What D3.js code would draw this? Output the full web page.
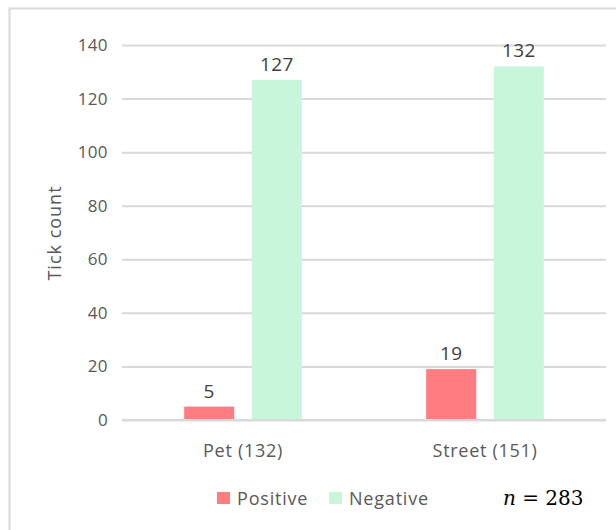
<!DOCTYPE html>
<html>
<head>
<meta charset="utf-8">
<script src="https://cdn.jsdelivr.net/npm/d3@7"></script>
<style>
  html, body { margin: 0; padding: 0; background: #fff; }
  svg { display: block; }
</style>
</head>
<body>
<svg id="chart" width="616" height="530"></svg>
<script>
const categories = ["Pet (132)", "Street (151)"];
const seriesNames = ["Positive", "Negative"];
const positiveValues = [5, 19];
const negativeValues = [127, 132];
const yTicks = [0, 20, 40, 60, 80, 100, 120, 140];
const colors = ["#ff7c80", "#c8f6da"];
const nLabel = "283";

const svg = d3.select("#chart");
const font = "'Open Sans', 'Noto Sans', sans-serif";

// outer frame
svg.append("rect").attr("x", 9.5).attr("y", 8.5).attr("width", 640).attr("height", 560)
  .attr("fill", "none").attr("stroke", "#d9d9d9").attr("stroke-width", 2);

const x0 = 122, x1 = 606, yTop = 45, yBot = 420;
const x = d3.scaleBand().domain(categories).range([x0, x1]).paddingInner(0).paddingOuter(0);
const y = d3.scaleLinear().domain([0, 140]).range([yBot, yTop]);
const xs = d3.scaleBand().domain(seriesNames).range([0, x.bandwidth()]).paddingInner(0.26).paddingOuter(0.92);

// gridlines
const yAxis = d3.axisLeft(y).tickValues(yTicks).tickSize(-(x1 - x0)).tickPadding(14);
const gy = svg.append("g").attr("transform", `translate(${x0},0)`).call(yAxis);
gy.select(".domain").remove();
gy.selectAll(".tick line").attr("stroke", "#d9d9d9").attr("stroke-width", 2);
gy.selectAll(".tick text").attr("fill", "#595959").style("font-family", font)
  .style("font-size", "17px").style("letter-spacing", "0.4px");

// bars
const data = categories.map((c, i) => ({ cat: c, vals: [positiveValues[i], negativeValues[i]] }));
const groups = svg.append("g").selectAll("g").data(data).join("g")
  .attr("transform", d => `translate(${x(d.cat)},0)`);
groups.selectAll("rect").data(d => d.vals.map((v, j) => ({ v, s: seriesNames[j], j })))
  .join("rect")
  .attr("x", d => xs(d.s)).attr("width", xs.bandwidth())
  .attr("y", d => y(d.v)).attr("height", d => y(0) - y(d.v))
  .attr("fill", d => colors[d.j]);
groups.selectAll("text.lbl").data(d => d.vals.map((v, j) => ({ v, s: seriesNames[j], j })))
  .join("text").attr("class", "lbl")
  .attr("x", d => xs(d.s) + xs.bandwidth() / 2)
  .attr("y", d => y(d.v) - 9)
  .attr("text-anchor", "middle")
  .attr("fill", "#404040").style("font-family", font).style("font-size", "19px")
  .style("letter-spacing", "0.4px")
  .text(d => d.v);

// x axis line
svg.append("line").attr("x1", x0).attr("x2", x1).attr("y1", yBot).attr("y2", yBot)
  .attr("stroke", "#d9d9d9").attr("stroke-width", 2);

// x axis labels
const xAxis = d3.axisBottom(x).tickSize(0).tickPadding(24);
const gx = svg.append("g").attr("transform", `translate(0,${yBot})`).call(xAxis);
gx.select(".domain").remove();
gx.selectAll(".tick text").attr("fill", "#595959").style("font-family", font)
  .style("font-size", "18px").style("letter-spacing", "0.7px");

// y title
svg.append("text").attr("transform", "translate(61,233) rotate(-90)")
  .attr("text-anchor", "middle").attr("fill", "#595959")
  .style("font-family", font).style("font-size", "18px").style("letter-spacing", "1px").text("Tick count");

// legend
const legendX = [217, 329];
const lg = svg.append("g");
seriesNames.forEach((s, i) => {
  lg.append("rect").attr("x", legendX[i]).attr("y", 492).attr("width", 13).attr("height", 12).attr("fill", colors[i]);
  lg.append("text").attr("x", legendX[i] + 20).attr("y", 505).attr("fill", "#595959")
    .style("font-family", font).style("font-size", "18px").style("letter-spacing", "0.8px").text(s);
});

// n = 283
const nt = svg.append("text").attr("x", 503).attr("y", 505).attr("fill", "#000")
  .style("font-family", "'DejaVu Serif', 'Liberation Serif', serif").style("font-size", "20px");
nt.append("tspan").style("font-style", "italic").text("n");
nt.append("tspan").text(" = " + nLabel);
</script>
</body>
</html>
